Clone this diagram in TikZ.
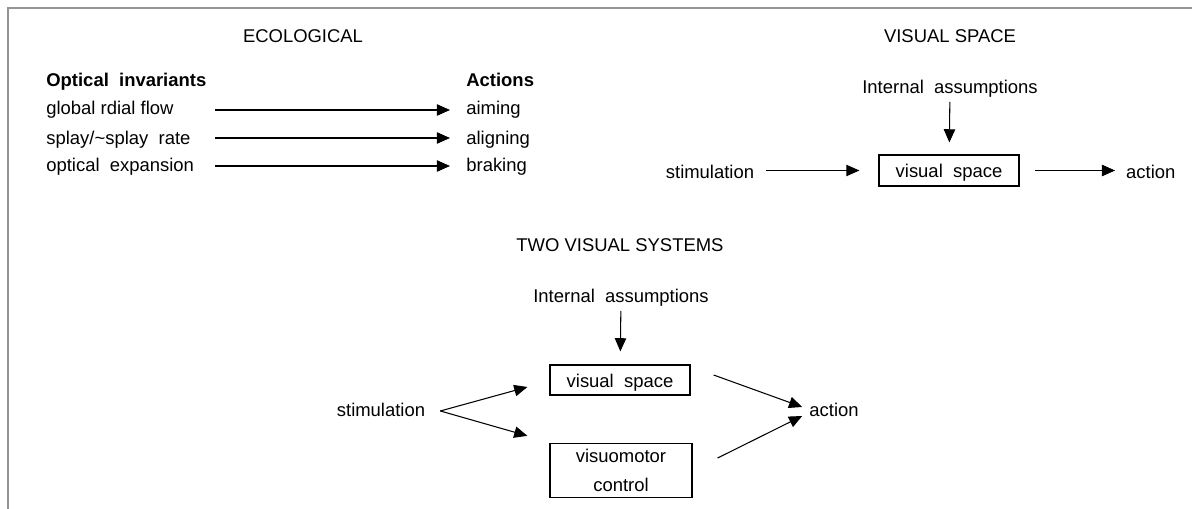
\documentclass[tikz,border=0pt]{standalone}
\usepackage{fontspec}
\setmainfont{Liberation Sans}
\usetikzlibrary{arrows.meta}
\begin{document}
\begin{tikzpicture}[x=0.02cm,y=-0.02cm,
  fnt/.style={font=\fontsize{10.5}{12.6}\selectfont},
  txt/.style={fnt, text height=0.75em, text depth=0.2em, yshift=-1.7pt},
  lft/.style={txt, anchor=west, inner xsep=0pt},
  act/.style={txt, anchor=west, inner xsep=0.32cm},
  arr/.style={line width=0.6pt, -{Triangle[length=7.5pt,width=6.5pt]}},
  boxbase/.style={fnt, draw, line width=0.7pt},
  boxn/.style={boxbase, text height=0.9em, text depth=0.1em, minimum width=2.8cm, minimum height=0.62cm},
  frame/.style={draw=black!42, line width=1.1pt}]
\useasboundingbox (0,0) rectangle (1192,509);
\draw[frame] (1192,8) -- (8,8) -- (8,509);

% ECOLOGICAL
\node[txt] (eco) at (303,35) {ECOLOGICAL};
\node[lft] (oi) at (46,79) {\textbf{Optical\ \ invariants}};
\node[lft] (l1) at (46,107) {global rdial flow};
\node[lft] (l2) at (46,137) {splay/\textasciitilde splay\ \ rate};
\node[lft] (l3) at (46,164) {optical\ \ expansion};
\node[lft] (acts) at (466,79) {\textbf{Actions}};
\node[act] (a1) at (450,107) {aiming};
\node[act] (a2) at (450,137) {aligning};
\node[act] (a3) at (450,164) {braking};
\coordinate (s1) at (215,110);
\coordinate (s2) at (215,138);
\coordinate (s3) at (215,166);
\draw[arr] (s1) -- (s1 -| a1.west);
\draw[arr] (s2) -- (s2 -| a2.west);
\draw[arr] (s3) -- (s3 -| a3.west);

% VISUAL SPACE
\node[txt] (vst) at (950,35) {VISUAL SPACE};
\node[txt] (ia1) at (950,86) {Internal\ \ assumptions};
\node[boxn] (vs1) at (949,170.5) {visual\ \ space};
\node[txt] (st1) at (710,171) {stimulation};
\node[txt, anchor=west] (ac1) at (1120,171) {action};
\draw[arr, shorten <=-1pt, shorten >=6.8pt] (ia1) -- (vs1);
\draw[arr, shorten <=3.4pt, shorten >=10.8pt] (st1.east |- vs1) -- (vs1.west);
\draw[arr, shorten <=9pt, shorten >=2.8pt] (vs1.east) -- (ac1.west |- vs1);

% TWO VISUAL SYSTEMS
\node[txt] (tvs) at (620,244) {TWO VISUAL SYSTEMS};
\node[txt] (ia2) at (621,295) {Internal\ \ assumptions};
\node[boxn, minimum height=0.6cm] (vs2) at (620,380) {visual\ \ space};
\node[boxbase, minimum width=2.84cm, minimum height=1.04cm, align=center] (vm) at (621,470.5) {visuomotor\\[3.8pt]control};
\node[txt] (st2) at (381,409) {stimulation};
\node[txt] (ac2) at (834,409) {action};
\draw[arr, shorten <=-1pt, shorten >=7.4pt] (ia2) -- (vs2);
\coordinate (fork) at ([shift={(9,-1)}]st2.east);
\coordinate (t1) at ([shift={(-22,7)}]vs2.west);
\coordinate (t2) at ([shift={(-22,-7)}]vm.north west);
\draw[arr] (fork) -- (t1);
\draw[arr] (fork) -- (t2);
\coordinate (f1) at ([shift={(23,-5)}]vs2.east);
\coordinate (f2) at ([shift={(25,-12.5)}]vm.east);
\coordinate (u1) at ([shift={(-1,-5)}]ac2.west);
\coordinate (u2) at ([shift={(-1,4)}]ac2.west);
\draw[arr] (f1) -- (u1);
\draw[arr] (f2) -- (u2);
\end{tikzpicture}
\end{document}
